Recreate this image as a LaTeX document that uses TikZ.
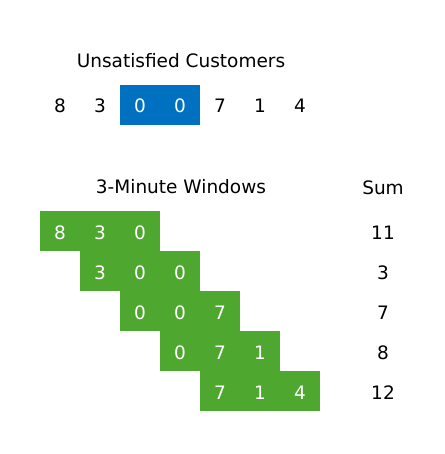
\documentclass[tikz,border=0pt]{standalone}
\usepackage{fontspec}
\setmainfont{DejaVu Sans}
\definecolor{cellblue}{RGB}{0,112,192}
\definecolor{cellgreen}{RGB}{78,167,46}
\begin{document}
\begin{tikzpicture}[x=1pt,y=-1pt,
  txt/.style={font=\fontsize{18.5}{21}\selectfont, text=black, inner sep=0pt},
  num/.style={txt, minimum width=40pt, minimum height=40pt, text height=16pt, text depth=0pt, anchor=center},
  bcell/.style={num, fill=cellblue, text=white},
  gcell/.style={num, fill=cellgreen, text=white}]
\useasboundingbox (0,0) rectangle (444,454);
\node[txt] (title1) at (181,61) {Unsatisfied Customers};
\node[num] (u1) at (60,105) {8};
\node[num] (u2) at (100,105) {3};
\node[bcell] (u3) at (140,105) {0};
\node[bcell] (u4) at (180,105) {0};
\node[num] (u5) at (220,105) {7};
\node[num] (u6) at (260,105) {1};
\node[num] (u7) at (300,105) {4};
\node[txt] (title2) at (181,187) {3-Minute Windows};
\node[txt] (sumh) at (383,188) {Sum};
% window rows
\foreach \r/\a/\b/\c [count=\i from 0] in {8/3/0/11, 3/0/0/3, 0/0/7/7, 0/7/1/8, 7/1/4/12}{
  \pgfmathsetmacro{\y}{231+40*\i}
  \pgfmathsetmacro{\xa}{60+40*\i}
  \pgfmathsetmacro{\xb}{100+40*\i}
  \pgfmathsetmacro{\xc}{140+40*\i}
  \node[gcell] (w\i a) at (\xa,\y) {\r};
  \node[gcell] (w\i b) at (\xb,\y) {\a};
  \node[gcell] (w\i c) at (\xc,\y) {\b};
  \node[num] (s\i) at (383,\y) {\c};
}
\end{tikzpicture}
\end{document}
